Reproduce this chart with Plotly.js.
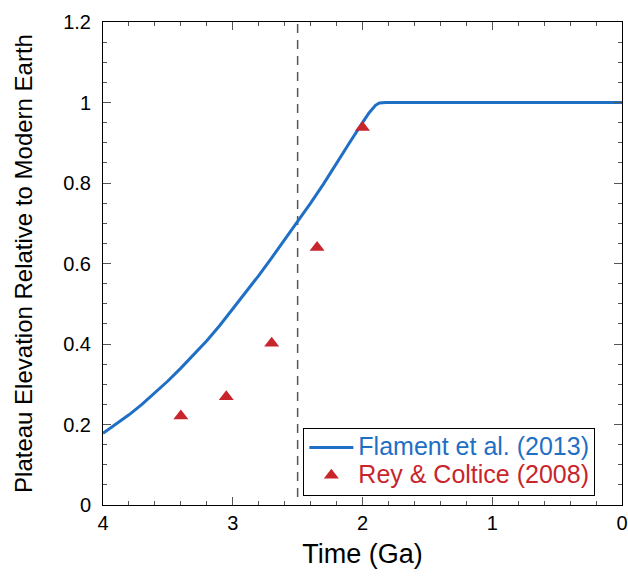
<!DOCTYPE html>
<html>
<head>
<meta charset="utf-8">
<script src="https://cdn.plot.ly/plotly-3.0.1.min.js"></script>
<style>html,body{margin:0;padding:0;background:#fff;}#chart{width:628px;height:576px;}</style>
</head>
<body>
<div id="chart"></div>
<script>
// Flament et al. (2013) model curve
const flamentTime = [4.0, 3.9, 3.8, 3.7, 3.6, 3.5, 3.4, 3.3, 3.2, 3.1, 3.0, 2.9, 2.8, 2.7, 2.6, 2.5, 2.4, 2.3, 2.2, 2.1, 2.0, 1.95, 1.9, 1.87, 1.82, 1.5, 1.0, 0.5, 0.0];
const flamentElev = [0.178, 0.200, 0.224, 0.250, 0.278, 0.308, 0.340, 0.373, 0.408, 0.446, 0.487, 0.528, 0.570, 0.614, 0.659, 0.706, 0.750, 0.798, 0.850, 0.900, 0.950, 0.974, 0.993, 0.999, 1.0, 1.0, 1.0, 1.0, 1.0];
// Rey & Coltice (2008) points
const reyTime = [3.4, 3.05, 2.7, 2.35, 2.0];
const reyElev = [0.221, 0.269, 0.402, 0.640, 0.938];
const xTicks = [4, 3, 2, 1, 0];
const yTicks = [0, 0.2, 0.4, 0.6, 0.8, 1, 1.2];
const dashedTime = 2.5;

const blue = '#1f6fc5';
const red = '#c9252c';
const FONT = '"Liberation Sans", Arial, Helvetica, sans-serif';

const traces = [
  {x: flamentTime, y: flamentElev, mode: 'lines', type: 'scatter',
   line: {color: blue, width: 3},
   name: '<span style="color:' + blue + ';font-size:25px">Flament et al. (2013)</span>'},
  {x: reyTime, y: reyElev, mode: 'markers', type: 'scatter',
   marker: {symbol: 'triangle-up', size: 13, color: red},
   name: '<span style="color:' + red + ';font-size:25px">Rey &amp; Coltice (2008)</span>'}
];

const axisCommon = {
  showgrid: false, zeroline: false, showline: true, linecolor: '#000', linewidth: 1,
  mirror: 'ticks', ticks: 'inside', ticklen: 8, tickcolor: '#555', tickwidth: 1,
  tickfont: {family: FONT, size: 20, color: '#000'}
};

const layout = {
  width: 628, height: 576,
  margin: {l: 103, r: 6, t: 22, b: 71},
  paper_bgcolor: '#fff', plot_bgcolor: '#fff',
  font: {family: FONT, color: '#000'},
  showlegend: true,
  legend: {x: 0.386, y: 0.160, xanchor: 'left', yanchor: 'top',
    bordercolor: '#000', borderwidth: 1, bgcolor: '#fff',
    font: {family: FONT, size: 19}, tracegroupgap: 0, itemwidth: 44},
  xaxis: Object.assign({}, axisCommon, {
    range: [4, 0], tickvals: xTicks, ticktext: xTicks.map(String),
    minor: {dtick: 0.2, ticks: 'inside', ticklen: 4, tickcolor: '#555', showgrid: false},
    title: {text: 'Time (Ga)', font: {family: FONT, size: 27, color: '#000'}, standoff: 11}
  }),
  yaxis: Object.assign({}, axisCommon, {
    range: [0, 1.2], tickvals: yTicks, ticktext: yTicks.map(String),
    ticklabelstandoff: 7,
    minor: {dtick: 0.05, ticks: 'inside', ticklen: 4, tickcolor: '#555', showgrid: false},
    title: {text: 'Plateau Elevation Relative to Modern Earth', font: {family: FONT, size: 24, color: '#000'}, standoff: 23}
  }),
  shapes: [{type: 'line', xref: 'x', yref: 'y', x0: dashedTime, x1: dashedTime, y0: 0.02, y1: 1.2,
    line: {color: '#555', width: 1.5, dash: '9px,7px'}, layer: 'below'}]
};

Plotly.newPlot('chart', traces, layout, {staticPlot: true, displayModeBar: false});
</script>
</body>
</html>
